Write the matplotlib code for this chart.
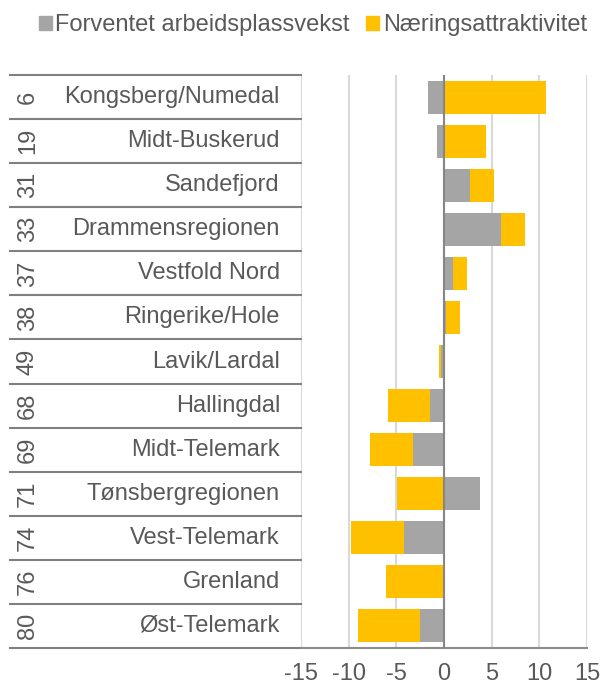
import numpy as np
import matplotlib.pyplot as plt
from matplotlib.patches import Patch
from matplotlib.transforms import blended_transform_factory

plt.rcParams['font.family'] = ['Liberation Sans', 'DejaVu Sans']

# data (top to bottom)
ranks = [6, 19, 31, 33, 37, 38, 49, 68, 69, 71, 74, 76, 80]
regions = ['Kongsberg/Numedal', 'Midt-Buskerud', 'Sandefjord', 'Drammensregionen',
           'Vestfold Nord', 'Ringerike/Hole', 'Lavik/Lardal', 'Hallingdal',
           'Midt-Telemark', 'Tønsbergregionen', 'Vest-Telemark', 'Grenland', 'Øst-Telemark']
arbeidsplassvekst = [-1.7, -0.7, 2.7, 5.95, 0.9, 0.25, -0.3, -1.5, -3.25, 3.75, -4.2, -0.1, -2.55]
naeringsattraktivitet = [10.75, 4.45, 2.55, 2.5, 1.55, 1.4, -0.2, -4.35, -4.55, -4.9, -5.6, -6.0, -6.45]

gray = '#A5A5A5'
yellow = '#FFC000'
txt = '#595959'

W, H = 601, 686
fig = plt.figure(figsize=(W / 100, H / 100), dpi=100)
ax = fig.add_axes([301 / W, 1 - 648 / H, (587 - 301) / W, (648 - 75) / H])

y = np.arange(len(regions))
g = np.array(arbeidsplassvekst)
n = np.array(naeringsattraktivitet)
# excel-style stacking: positive and negative parts stack separately
left_n = np.where(np.sign(g) == np.sign(n), g, 0)

ax.barh(y, g, height=0.75, color=gray, zorder=3)
ax.barh(y, n, left=left_n, height=0.75, color=yellow, zorder=3)

ax.set_xlim(-15, 15)
ax.set_ylim(len(regions) - 0.5, -0.5)
ax.set_xticks([-15, -10, -5, 0, 5, 10, 15])
ax.set_xticklabels(['-15', '-10', '-5', '0', '5', '10', '15'])
ax.set_yticks([])
ax.tick_params(axis='x', length=0, pad=11, labelsize=17, labelcolor=txt)
ax.grid(axis='x', color='#D9D9D9', linewidth=1.5, zorder=0)
ax.axvline(0, color='#868686', linewidth=1.5, zorder=4)
for s in ['top', 'right', 'left']:
    ax.spines[s].set_visible(False)
ax.spines['bottom'].set_color('#8C8C8C')
ax.spines['bottom'].set_linewidth(1.5)

# table on the left
tr = blended_transform_factory(fig.transFigure, ax.transData)
for b in np.arange(len(regions) + 1) - 0.5:
    ax.plot([10 / W, 301 / W], [b, b], transform=tr, color='#808080',
            linewidth=1.5, clip_on=False)
for i in y:
    ax.text(28 / W, i, str(ranks[i]), transform=tr, rotation=90, ha='center',
            va='center', fontsize=17, color=txt)
    ax.text(280 / W, i, regions[i], transform=tr, ha='right', va='center',
            fontsize=17, color=txt)

handles = [Patch(color=gray, label='Forventet arbeidsplassvekst'),
           Patch(color=yellow, label='Næringsattraktivitet')]
fig.legend(handles=handles, loc='center', bbox_to_anchor=(313 / W, 1 - 25 / H), ncol=2,
           frameon=False, fontsize=17, labelcolor=txt, handlelength=0.55,
           handleheight=0.55, handletextpad=0.15, columnspacing=0.7)

fig.savefig('out.png', dpi=100)
